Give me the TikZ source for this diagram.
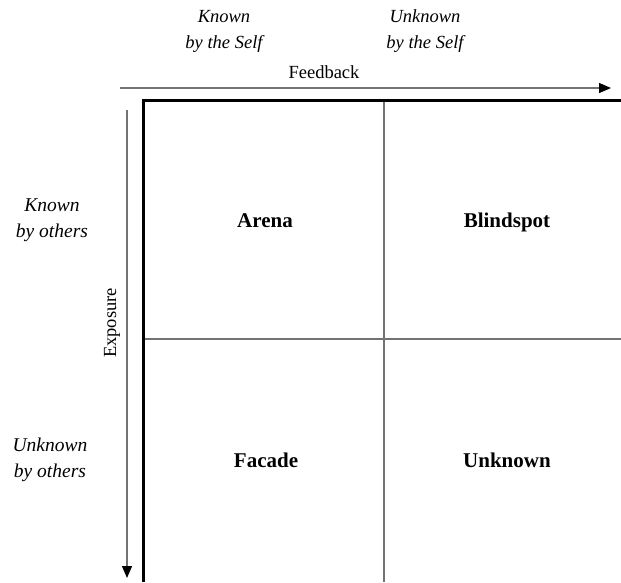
\documentclass[tikz,border=0pt]{standalone}
\usepackage{fontspec}
\setmainfont{Liberation Serif}
\usetikzlibrary{arrows.meta}
\begin{document}
\begin{tikzpicture}[x=1pt,y=-1pt,
  lbl/.style={font=\fontsize{19.5}{26}\selectfont\itshape, align=center},
  axislbl/.style={font=\fontsize{18.5}{22}\selectfont},
  cell/.style={font=\fontsize{21}{24}\selectfont\bfseries, anchor=base},
  frame/.style={line width=3pt, black},
  divider/.style={line width=1.4pt, black!55},
  axis/.style={line width=1.3pt, black!55, -{Triangle[length=12pt,width=10pt,fill=black,color=black]}}]
\useasboundingbox (0,0) rectangle (621,582);
% grid corners
\coordinate (tl) at (143,100);
\coordinate (tr) at (621,100);
\coordinate (bl) at (143,582);
\coordinate (tm) at (384,100);
\coordinate (bm) at (384,582);
\coordinate (ml) at (143,339);
\coordinate (mr) at (621,339);
% inner dividers
\draw[divider] (tm) -- (bm);
\draw[divider] (ml) -- (mr);
% outer frame (top and left edges)
\draw[frame] (tr) -- (tl) -- (bl);
% axes
\coordinate (fs) at (120,88);
\coordinate (fe) at (611,88);
\coordinate (es) at (127,110);
\coordinate (ee) at (127,578);
\draw[axis] (fs) -- (fe);
\draw[axis] (es) -- (ee);
\node[axislbl] (fb) at (324,72) {Feedback};
\node[axislbl, rotate=90] (ex) at (112,323) {Exposure};
% column headings
\node[lbl, font=\fontsize{18.5}{26}\selectfont\itshape] (c1) at (224,31) {Known\\by the Self};
\node[lbl, font=\fontsize{18.5}{26}\selectfont\itshape] (c2) at (425,31) {Unknown\\by the Self};
% row headings
\node[lbl] (r1) at (52,220) {Known\\by others};
\node[lbl] (r2) at (50,460) {Unknown\\by others};
% quadrants
\node[cell] (arena) at (265,227) {Arena};
\node[cell] (blind) at (507,227) {Blindspot};
\node[cell] (facade) at (266,467) {Facade};
\node[cell] (unknown) at (507,467) {Unknown};
\end{tikzpicture}
\end{document}
